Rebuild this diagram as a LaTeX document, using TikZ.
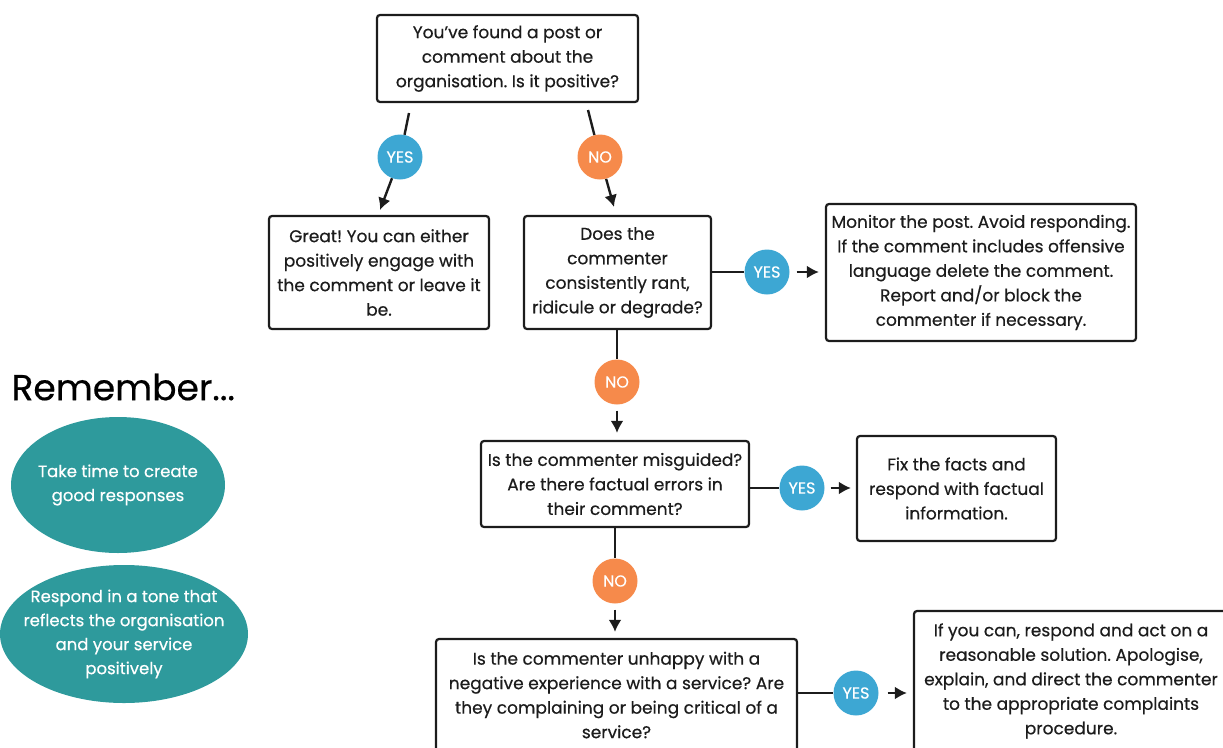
\documentclass[tikz,border=0pt]{standalone}
\usepackage{fontspec}
\setmainfont{Poppins}[FakeBold=0.5]
\usetikzlibrary{arrows.meta,shapes.geometric}
\frenchspacing

\definecolor{yesblue}{HTML}{3DA7D3}
\definecolor{noorange}{HTML}{F68A4B}
\definecolor{tipteal}{HTML}{2E9A9C}
\definecolor{inkgrey}{HTML}{1C1C1C}

\tikzset{
  box/.style={draw=inkgrey, line width=2.2pt, rounded corners=3pt, align=center,
    inner sep=0pt, text=inkgrey, font=\fontsize{17}{24.5}\selectfont},
  yesdot/.style={circle, fill=yesblue, text=white, minimum size=45pt, inner sep=0pt,
    font=\fontsize{16}{18}\selectfont},
  nodot/.style={yesdot, fill=noorange},
  tip/.style={ellipse, fill=tipteal, text=white, align=center, inner xsep=-60pt,
    inner ysep=-20pt, font=\fontsize{16.5}{24}\selectfont},
  flow/.style={draw=inkgrey, line width=2.4pt, -{Latex[length=12pt,width=13pt]}},
}

\begin{document}
\begin{tikzpicture}[x=1pt, y=-1pt]
  \useasboundingbox (0,0) rectangle (1223,747);

  \node[box, minimum width=261pt, minimum height=87pt] (start) at (507.5,58.5)
    {You've found a post or\\comment about the\\organisation. Is it positive?};
  \node[box, minimum width=220pt, minimum height=113pt] (great) at (379,272.5)
    {Great! You can either\\positively engage with\\the comment or leave it\\be.};
  \node[box, minimum width=187pt, minimum height=113pt] (rant) at (617.5,272.5)
    {Does the\\commenter\\consistently rant,\\ridicule or degrade?};
  \node[box, minimum width=310pt, minimum height=137pt] (monitor) at (981,272.5)
    {Monitor the post. Avoid responding.\\If the comment includes offensive\\language delete the comment.\\Report and/or block the\\commenter if necessary.};
  \node[box, minimum width=268pt, minimum height=86pt] (facts) at (615,484)
    {Is the commenter misguided?\\Are there factual errors in\\their comment?};
  \node[box, minimum width=199pt, minimum height=105pt] (fix) at (956.5,488.5)
    {Fix the facts and\\respond with factual\\information.};
  \node[box, minimum width=361pt, minimum height=112pt] (unhappy) at (616.5,695)
    {Is the commenter unhappy with a\\negative experience with a service? Are\\they complaining or being critical of a\\service?};
  \node[box, minimum width=314pt, minimum height=140pt] (complaint) at (1071,681)
    {If you can, respond and act on a\\reasonable solution. Apologise,\\explain, and direct the commenter\\to the appropriate complaints\\procedure.};

  \node[yesdot] (yes1) at (400,157) {YES};
  \node[nodot] (no1) at (600,157) {NO};
  \node[yesdot] (yes2) at (767,272) {YES};
  \node[nodot] (no2) at (617,382) {NO};
  \node[yesdot] (yes3) at (802,488) {YES};
  \node[nodot] (no3) at (615,581) {NO};
  \node[yesdot] (yes4) at (856,693) {YES};

  \coordinate (yesfrom) at (409,113);
  \coordinate (yesto) at (380,210);
  \coordinate (nofrom) at (588,110);
  \coordinate (noto) at (614,207);

  \draw[flow] (yesfrom) -- (yes1) -- (yesto);
  \draw[flow] (nofrom) -- (no1) -- (noto);
  \draw[flow, shorten <=7pt, shorten >=6pt] (rant.east |- yes2) -- (yes2) -- (monitor.west |- yes2);
  \draw[flow, shorten <=6pt, shorten >=7pt] (rant.south -| no2) -- (no2) -- (facts.north -| no2);
  \draw[flow, shorten <=6pt, shorten >=5pt] (facts.east |- yes3) -- (yes3) -- (fix.west |- yes3);
  \draw[flow, shorten <=6pt, shorten >=6pt] (facts.south -| no3) -- (no3) -- (unhappy.north -| no3);
  \draw[flow, shorten <=9pt, shorten >=6pt] (unhappy.east |- yes4) -- (yes4) -- (complaint.west |- yes4);

  \node[anchor=west, text=black, font=\fontsize{36}{40}\selectfont] (remember) at (8,387) {Remember...};
  \node[tip, minimum width=214pt, minimum height=136pt] (tip1) at (118,485)
    {Take time to create\\good responses};
  \node[tip, minimum width=248pt, minimum height=138pt] (tip2) at (124,634)
    {Respond in a tone that\\reflects the organisation\\and your service\\positively};
\end{tikzpicture}
\end{document}
